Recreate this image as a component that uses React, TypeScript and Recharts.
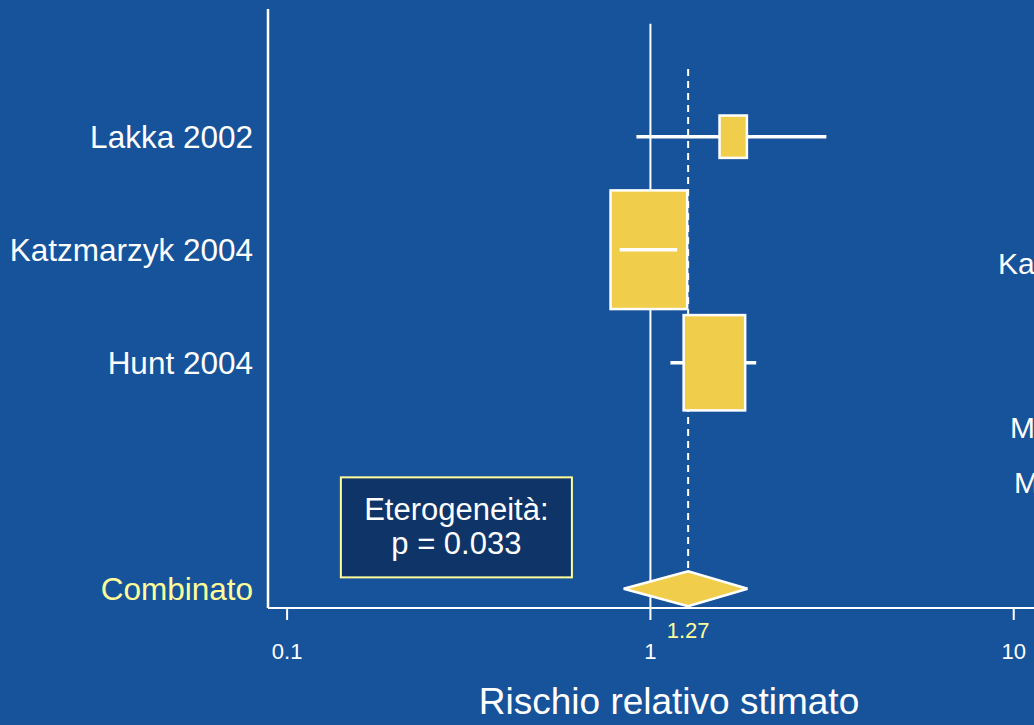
import React from "react";
import {
  ComposedChart,
  XAxis,
  YAxis,
  Scatter,
  ErrorBar,
  Area,
  ReferenceLine,
  ReferenceArea,
} from "recharts";

// studies (relative risk, 95% CI, weight %)
const STUDY_NAMES = ["Lakka 2002", "Katzmarzyk 2004", "Hunt 2004"];
const STUDY_ROWS = [1, 2, 3];
const STUDY_RR = [1.69, 0.99, 1.5];
const STUDY_LOW = [0.915, 0.823, 1.135];
const STUDY_HIGH = [3.05, 1.185, 1.955];
const STUDY_WEIGHT = [7.2, 56.4, 36.4];

// pooled estimate
const COMBINED_LABEL = "Combinato";
const COMBINED_ROW = 5;
const COMBINED_RR = 1.27;
const COMBINED_LOW = 0.844;
const COMBINED_HIGH = 1.85;

const X_TICKS = [0.1, 1, 10];
const HETEROGENEITY_P = "0.033";
const SIDE_TEXTS = ["Ka", "M", "M"];

const BG = "#17539A";
const NAVY = "#0F3467";
const YELLOW = "#F0CE4C";
const LIGHT_YELLOW = "#FFFF99";
const WHITE = "#FFFFFF";
const FONT = "'Liberation Sans', Arial, Helvetica, sans-serif";

const W = 1034;
const H = 725;
const PLOT_LEFT = 268;
const PLOT_TOP = 9;
const XAXIS_H = 117;
const X_DOMAIN: [number, number] = [0.0886, 11.37];
const Y_DOMAIN: [number, number] = [-0.13, 5.17];
const DIAMOND_HALF = 0.155;
const BOX_W_K = 10.2;
const BOX_H_K = 15.8;

const pxPerDecade = (W - PLOT_LEFT) / Math.log10(X_DOMAIN[1] / X_DOMAIN[0]);

const studyData = STUDY_NAMES.map((name, i) => ({
  name,
  row: STUDY_ROWS[i],
  rr: STUDY_RR[i],
  low: STUDY_LOW[i],
  high: STUDY_HIGH[i],
  err: [STUDY_RR[i] - STUDY_LOW[i], STUDY_HIGH[i] - STUDY_RR[i]],
  weight: STUDY_WEIGHT[i],
}));

// CI drawn over the box when it fits inside it
const ciInsideBox = studyData.filter((d) => {
  const half = (BOX_W_K * Math.sqrt(d.weight)) / 2 / pxPerDecade;
  return Math.log10(d.rr / d.low) < half && Math.log10(d.high / d.rr) < half;
});

const diamondData = [
  { rr: COMBINED_LOW, band: [COMBINED_ROW, COMBINED_ROW] },
  { rr: COMBINED_RR, band: [COMBINED_ROW - DIAMOND_HALF, COMBINED_ROW + DIAMOND_HALF] },
  { rr: COMBINED_HIGH, band: [COMBINED_ROW, COMBINED_ROW] },
];

const rowLabel = (row: number) => {
  if (row === COMBINED_ROW) return COMBINED_LABEL;
  const i = STUDY_ROWS.indexOf(row);
  return i >= 0 ? STUDY_NAMES[i] : "";
};

function RowTick(props: any) {
  const { x, y, payload } = props;
  const combined = payload.value === COMBINED_ROW;
  return (
    <text
      x={x}
      y={y}
      dy="0.355em"
      textAnchor="end"
      fill={combined ? LIGHT_YELLOW : WHITE}
      fontSize={31.5}
      fontFamily={FONT}
    >
      {rowLabel(payload.value)}
    </text>
  );
}

function WeightBox(props: any) {
  const { cx, cy, payload } = props;
  if (cx == null || cy == null) return null;
  const s = Math.sqrt(payload.weight);
  const w = BOX_W_K * s;
  const h = BOX_H_K * s;
  return (
    <rect
      x={cx - w / 2}
      y={cy - h / 2}
      width={w}
      height={h}
      fill={YELLOW}
      stroke={WHITE}
      strokeWidth={2.5}
    />
  );
}

function HeterogeneityBox(props: any) {
  const { x, y, width, height } = props;
  const cx = x + width / 2;
  return (
    <g>
      <rect
        x={x}
        y={y}
        width={width}
        height={height}
        fill={NAVY}
        stroke={LIGHT_YELLOW}
        strokeWidth={2}
      />
      <text x={cx} y={y + 43} textAnchor="middle" fill={WHITE} fontSize={31} fontFamily={FONT}>
        Eterogeneità:
      </text>
      <text x={cx} y={y + 77} textAnchor="middle" fill={WHITE} fontSize={31} fontFamily={FONT}>
        {`p = ${HETEROGENEITY_P}`}
      </text>
    </g>
  );
}

export default function App() {
  return (
    <div
      style={{
        position: "absolute",
        left: 0,
        top: 0,
        width: W,
        height: H,
        overflow: "hidden",
        background: BG,
        fontFamily: FONT,
      }}
    >
      <ComposedChart
        width={W}
        height={H}
        data={diamondData}
        margin={{ top: PLOT_TOP, right: 0, bottom: 0, left: 0 }}
      >
        <XAxis
          type="number"
          dataKey="rr"
          scale="log"
          domain={X_DOMAIN}
          allowDataOverflow
          ticks={X_TICKS}
          tickFormatter={(v: number) => String(v)}
          height={XAXIS_H}
          axisLine={{ stroke: WHITE, strokeWidth: 2 }}
          tickLine={{ stroke: WHITE, strokeWidth: 2 }}
          tickSize={12}
          tickMargin={23}
          tick={{ fill: WHITE, fontSize: 22, fontFamily: FONT }}
          label={{
            value: "Rischio relativo stimato",
            position: "insideBottom",
            offset: 11,
            dx: 18,
            fill: WHITE,
            fontSize: 37,
            fontFamily: FONT,
          }}
        />
        <YAxis
          type="number"
          dataKey="row"
          domain={Y_DOMAIN}
          allowDataOverflow
          reversed
          ticks={[...STUDY_ROWS, COMBINED_ROW]}
          width={PLOT_LEFT}
          axisLine={{ stroke: WHITE, strokeWidth: 2.5 }}
          tickLine={false}
          tickSize={0}
          tickMargin={15}
          tick={<RowTick />}
        />
        <ReferenceLine
          segment={[
            { x: 1, y: 0 },
            { x: 1, y: Y_DOMAIN[1] },
          ]}
          stroke={WHITE}
          strokeWidth={2}
          zIndex={50}
        />
        <ReferenceLine
          segment={[
            { x: COMBINED_RR, y: 0.4 },
            { x: COMBINED_RR, y: COMBINED_ROW - DIAMOND_HALF },
          ]}
          stroke={WHITE}
          strokeWidth={2}
          strokeDasharray="7 5"
          zIndex={50}
        />
        <ReferenceLine
          x={COMBINED_RR}
          stroke="none"
          label={{
            value: String(COMBINED_RR),
            position: "bottom",
            offset: 14,
            fill: LIGHT_YELLOW,
            fontSize: 22,
            fontFamily: FONT,
          }}
        />
        <ReferenceArea
          x1={0.1406}
          x2={0.608}
          y1={4.014}
          y2={4.899}
          shape={<HeterogeneityBox />}
        />
        <Area
          dataKey="band"
          type="linear"
          fill={YELLOW}
          fillOpacity={1}
          stroke={WHITE}
          strokeWidth={2.5}
          isAnimationActive={false}
        />
        <Scatter data={studyData} shape={<WeightBox />} isAnimationActive={false}>
          <ErrorBar dataKey="err" direction="x" width={0} stroke={WHITE} strokeWidth={3.5} />
        </Scatter>
        {ciInsideBox.map((d) => (
          <ReferenceLine
            key={d.name}
            segment={[
              { x: d.low, y: d.row },
              { x: d.high, y: d.row },
            ]}
            stroke={WHITE}
            strokeWidth={3.5}
            zIndex={900}
          />
        ))}
      </ComposedChart>
      <svg
        width={W}
        height={H}
        style={{ position: "absolute", left: 0, top: 0, pointerEvents: "none" }}
      >
        <text x={998} y={274} fill={WHITE} fontSize={30} fontFamily={FONT}>
          {SIDE_TEXTS[0]}
        </text>
        <text x={1010} y={438} fill={WHITE} fontSize={30} fontFamily={FONT}>
          {SIDE_TEXTS[1]}
        </text>
        <text x={1014} y={493} fill={WHITE} fontSize={30} fontFamily={FONT}>
          {SIDE_TEXTS[2]}
        </text>
      </svg>
    </div>
  );
}
